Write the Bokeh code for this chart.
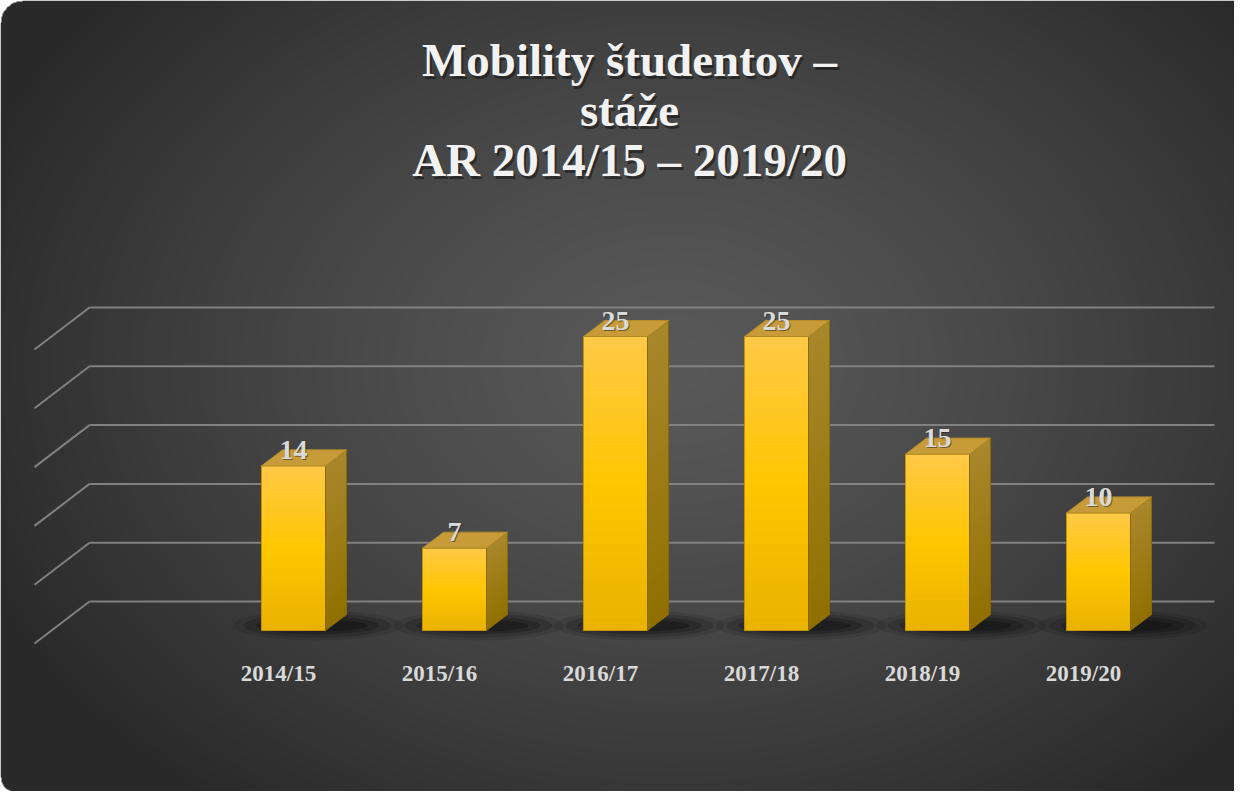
import numpy as np
from bokeh.plotting import figure
from bokeh.models import Range1d
from bokeh.core.properties import value
from bokeh.embed import file_html
from bokeh.resources import INLINE

# ---------------- data ----------------
years = ["2014/15", "2015/16", "2016/17", "2017/18", "2018/19", "2019/20"]
counts = [14, 7, 25, 25, 15, 10]
grid_values = [0, 5, 10, 15, 20, 25]
title_lines = ["Mobility študentov –", "stáže", "AR 2014/15 – 2019/20"]

# ---------------- layout ----------------
W, H = 1234, 791
PXU = 161.0      # pixels per category
PYU = 11.76      # pixels per unit of value
OX, OY = 301.0 - 8, 638.0 - 8  # figure-pixel position of (category 0, value 0)
x0 = -OX / PXU
x1 = x0 + W / PXU
y1 = OY / PYU
y0 = y1 - H / PYU


def fx(px):
    return x0 + px / PXU


def fy(py):
    return y1 - py / PYU


SERIF = value("Liberation Serif")

p = figure(width=W, height=H, output_backend="svg", toolbar_location=None,
           x_range=Range1d(x0, x1), y_range=Range1d(y0, y1),
           x_axis_location=None, y_axis_location=None, min_border=0,
           background_fill_color="white", border_fill_color="white")
p.grid.visible = False
p.outline_line_color = None

# ---------------- background (radial gradient, rounded left corners) ----------------
cols = np.arange(W) + 8.0
rows = np.arange(H) + 8.0
X, Y = np.meshgrid(cols, rows)
d = np.sqrt(((X - 680.0) / 760.0) ** 2 + ((Y - 370.0) / 560.0) ** 2)
d = np.clip(d, 0, 1)
lvl = (0x59 - (0x59 - 0x29) * d ** 1.3).astype(np.uint8)
alpha = np.full((H, W), 255, dtype=np.uint8)
r1 = 22.0
m1 = (X < 8 + r1) & (Y < 8 + r1) & (((X - (8 + r1)) ** 2 + (Y - (8 + r1)) ** 2) > r1 ** 2)
r2 = 15.0
yb = 8 + H
m2 = (X < 8 + r2) & (Y > yb - r2) & (((X - (8 + r2)) ** 2 + (Y - (yb - r2)) ** 2) > r2 ** 2)
alpha[m1 | m2] = 0
img = np.empty((H, W), dtype=np.uint32)
view = img.view(dtype=np.uint8).reshape((H, W, 4))
view[..., 0] = lvl
view[..., 1] = lvl
view[..., 2] = lvl
view[..., 3] = alpha
p.image_rgba(image=[np.ascontiguousarray(img[::-1])], x=x0, y=y0, dw=W / PXU, dh=H / PYU)

# ---------------- 3D wall grid lines ----------------
wall_dy = 29.0 / PYU
gx_left = fx(97 - 8)
gx_right = fx(1222 - 8)
diag_dx = 55.0 / PXU
diag_dy = 42.0 / PYU
gy = [g + wall_dy for g in grid_values]
p.segment(x0=[gx_left] * len(gy), y0=gy, x1=[gx_right] * len(gy), y1=gy,
          line_color="#858585", line_width=2, line_alpha=0.95)
p.segment(x0=[gx_left] * len(gy), y0=gy, x1=[gx_left - diag_dx] * len(gy),
          y1=[g - diag_dy for g in gy], line_color="#858585", line_width=2, line_alpha=0.95)

# ---------------- bars ----------------
xs = list(range(len(years)))
half = 32.0 / PXU
ddx = 21.0 / PXU
ddy = 16.0 / PYU

# shadows
for w_px, h_px, a in [(170, 30, 0.10), (148, 24, 0.15), (124, 18, 0.20), (100, 12, 0.25)]:
    p.ellipse(x=[i + 24.0 / PXU for i in xs], y=[5.0 / PYU] * len(xs),
              width=w_px / PXU, height=h_px / PYU,
              fill_color="black", fill_alpha=a, line_color=None)


def mix(c1, c2, t):
    a = [int(c1[k:k + 2], 16) for k in (1, 3, 5)]
    b = [int(c2[k:k + 2], 16) for k in (1, 3, 5)]
    return "#%02x%02x%02x" % tuple(int(round(a[j] + (b[j] - a[j]) * t)) for j in range(3))


def front_col(t):
    if t < 0.5:
        return mix("#e8b200", "#ffc700", t / 0.5)
    return mix("#ffc700", "#ffc848", (t - 0.5) / 0.5)


def side_col(t):
    return mix("#917000", "#a8872c", t)


# gradient slices: each slice runs from its own bottom up to the bar top and
# later (higher) slices are drawn on top, so no seams appear between them
N = 24
fl, fr, fb, ft, fc = [], [], [], [], []
sxs, sys_, sc = [], [], []
for i, v in zip(xs, counts):
    for k in range(N):
        b = v * k / N
        tt = (k + 0.5) / N
        fl.append(i - half)
        fr.append(i + half)
        fb.append(b)
        ft.append(v)
        fc.append(front_col(tt))
        sxs.append([i + half, i + half + ddx, i + half + ddx, i + half])
        sys_.append([b, b + ddy, v + ddy, v])
        sc.append(side_col(tt))

p.patches(xs=sxs, ys=sys_, fill_color=sc, line_color=None)
p.quad(left=fl, right=fr, bottom=fb, top=ft, fill_color=fc, line_color=None)

# outlines
p.quad(left=[i - half for i in xs], right=[i + half for i in xs], bottom=[0] * len(xs),
       top=counts, fill_color=None, line_color="#c39400", line_width=1)
p.patches(xs=[[i + half, i + half + ddx, i + half + ddx, i + half] for i in xs],
          ys=[[0, ddy, v + ddy, v] for v in counts],
          fill_color=None, line_color="#8a6a00", line_width=1)
# top faces
p.patches(xs=[[i - half, i + half, i + half + ddx, i - half + ddx] for i in xs],
          ys=[[v, v, v + ddy, v + ddy] for v in counts],
          fill_color="#c79b38", line_color="#b08a2a", line_width=1)

# ---------------- value labels ----------------
p.text(x=xs, y=[v + ddy for v in counts], text=[str(v) for v in counts],
       text_font=SERIF, text_font_style="bold", text_font_size="28px",
       text_color="#1a1a1a", text_alpha=0.5, text_align="center",
       text_baseline="alphabetic", x_offset=1, y_offset=1)
p.text(x=xs, y=[v + ddy for v in counts], text=[str(v) for v in counts],
       text_font=SERIF, text_font_style="bold", text_font_size="28px",
       text_color="#dadada", text_align="center", text_baseline="alphabetic")

# ---------------- category labels ----------------
p.text(x=[i - 15.0 / PXU for i in xs], y=[fy(681 - 8)] * len(xs), text=years,
       text_font=SERIF, text_font_style="bold", text_font_size="23px",
       text_color="#d9d9d9", text_align="center", text_baseline="middle")

# ---------------- title ----------------
tx = [fx(637 - 8)] * 3
ty = [fy(67 - 8), fy(117 - 8), fy(167 - 8)]
p.text(x=tx, y=ty, text=title_lines, text_font=SERIF, text_font_style="bold",
       text_font_size="47px", text_color="#111111", text_alpha=0.55,
       text_align="center", text_baseline="alphabetic", x_offset=2, y_offset=3)
p.text(x=tx, y=ty, text=title_lines, text_font=SERIF, text_font_style="bold",
       text_font_size="47px", text_color="#f2f2f2",
       text_align="center", text_baseline="alphabetic")

open("out.html", "w").write(file_html(p, INLINE))
